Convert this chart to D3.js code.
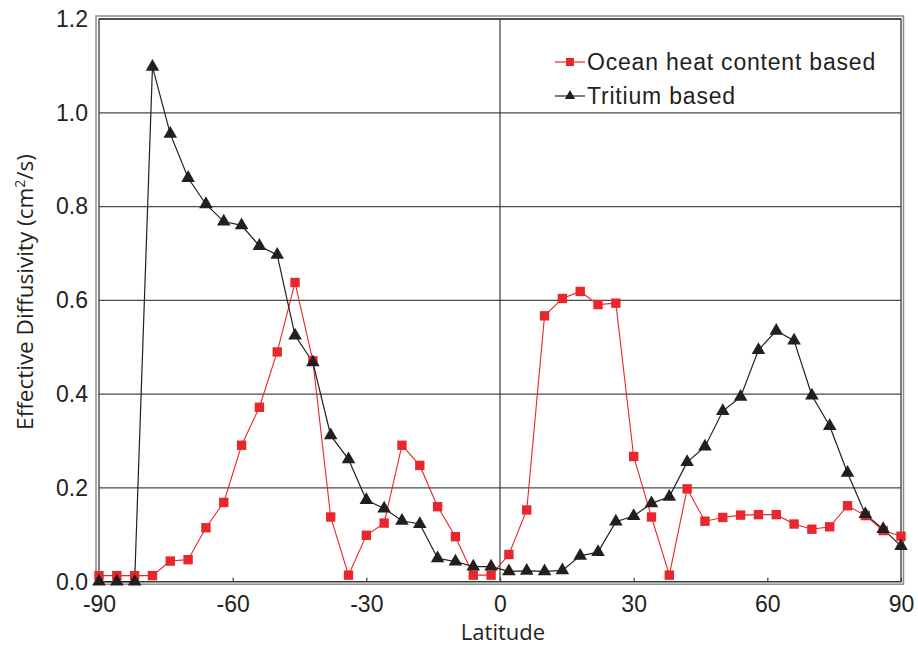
<!DOCTYPE html>
<meta charset="utf-8">
<script src="https://d3js.org/d3.v7.min.js"></script>
<style>
  body { margin: 0; background: #fff; }
  .tick-lbl { font-family: "Liberation Sans", Arial, sans-serif; font-size: 23px; fill: #231f20; }
  .title-lbl { font-family: "Open Sans", "Noto Sans", sans-serif; font-size: 22px; fill: #231f20; }
  .legend-lbl { font-family: "Liberation Sans", Arial, sans-serif; font-size: 23px; letter-spacing: 0.8px; fill: #231f20; }
</style>
<div id="chart"></div>
<script>
// latitudes, every 4 degrees
var lat = d3.range(-90, 91, 4);

// Ocean heat content based
var heat = [0.013, 0.013, 0.013, 0.013, 0.044, 0.047, 0.115, 0.169, 0.291, 0.372,
            0.490, 0.638, 0.471, 0.138, 0.014, 0.099, 0.125, 0.291, 0.248, 0.160,
            0.096, 0.014, 0.014, 0.058, 0.153, 0.567, 0.604, 0.619, 0.591, 0.594,
            0.267, 0.138, 0.014, 0.198, 0.129, 0.137, 0.142, 0.143, 0.143, 0.123,
            0.112, 0.117, 0.162, 0.141, 0.109, 0.097];

// Tritium based
var tritium = [0.0, 0.0, 0.0, 1.098, 0.955, 0.861, 0.805, 0.768, 0.760, 0.716,
               0.697, 0.525, 0.468, 0.312, 0.261, 0.174, 0.156, 0.130, 0.123, 0.050,
               0.043, 0.032, 0.032, 0.022, 0.023, 0.022, 0.024, 0.055, 0.063, 0.128,
               0.140, 0.167, 0.181, 0.255, 0.288, 0.364, 0.394, 0.494, 0.535, 0.514,
               0.397, 0.332, 0.232, 0.144, 0.112, 0.076];

var xTicks = [-90, -60, -30, 0, 30, 60, 90];
var yTicks = [0.0, 0.2, 0.4, 0.6, 0.8, 1.0, 1.2];
var seriesNames = ["Ocean heat content based", "Tritium based"];

var W = 918, H = 645;
var red = "#e8262b", dark = "#231f20";

var svg = d3.select("#chart").append("svg")
    .attr("width", W).attr("height", H);

var x = d3.scaleLinear().domain([-90, 90]).range([99, 901]);
var y = d3.scaleLinear().domain([0, 1.2]).range([581.7, 19]);

// outer grey frame
svg.append("rect")
    .attr("x", x(-90) - 3).attr("y", y(1.2) - 3)
    .attr("width", x(90) - x(-90) + 5.5).attr("height", y(0) - y(1.2) + 5.5)
    .attr("fill", "none").attr("stroke", "#8a8a8a").attr("stroke-width", 1.5);

// horizontal gridlines
svg.append("g").selectAll("line")
    .data(yTicks)
    .enter().append("line")
    .attr("x1", x(-90)).attr("x2", x(90))
    .attr("y1", function(d) { return y(d); })
    .attr("y2", function(d) { return y(d); })
    .attr("stroke", "#4a4a4a").attr("stroke-width", 1.3);

// zero latitude line
svg.append("line")
    .attr("x1", x(0)).attr("x2", x(0))
    .attr("y1", y(1.2)).attr("y2", y(0))
    .attr("stroke", "#3a3a3a").attr("stroke-width", 1.2);

// inner frame
svg.append("rect")
    .attr("x", x(-90)).attr("y", y(1.2))
    .attr("width", x(90) - x(-90)).attr("height", y(0) - y(1.2))
    .attr("fill", "none").attr("stroke", "#3a3a3a").attr("stroke-width", 1.3);

// x axis
var xAxis = svg.append("g")
    .attr("transform", "translate(0," + y(0) + ")")
    .call(d3.axisBottom(x).tickValues(xTicks).tickSize(-4).tickPadding(14)
      .tickFormat(function(d) { return String(d); }));
xAxis.select(".domain").remove();
xAxis.selectAll(".tick line").attr("stroke", "#3a3a3a").attr("stroke-width", 1.2);
xAxis.selectAll("text").attr("class", "tick-lbl");
xAxis.attr("font-size", null).attr("font-family", null);

// y axis
var yAxis = svg.append("g")
    .attr("transform", "translate(" + x(-90) + ",0)")
    .call(d3.axisLeft(y).tickValues(yTicks).tickSize(0).tickPadding(11).tickFormat(d3.format(".1f")));
yAxis.select(".domain").remove();
yAxis.selectAll("text").attr("class", "tick-lbl");
yAxis.attr("font-size", null).attr("font-family", null);

// axis titles
svg.append("text").attr("class", "title-lbl")
    .attr("x", 503).attr("y", 640)
    .attr("text-anchor", "middle")
    .text("Latitude");

var yt = svg.append("text").attr("class", "title-lbl")
    .attr("transform", "translate(33," + 292 + ") rotate(-90)")
    .attr("text-anchor", "middle")
    .style("font-size", "22.5px");
yt.append("tspan").text("Effective Diffusivity (cm");
yt.append("tspan").attr("font-size", "14px").attr("dy", -8).text("2");
yt.append("tspan").attr("dy", 8).text("/s)");

var line = d3.line()
    .x(function(d, i) { return x(lat[i]); })
    .y(function(d) { return y(d); });

// heat series
svg.append("path").datum(heat)
    .attr("d", line)
    .attr("fill", "none").attr("stroke", red).attr("stroke-width", 1.1);

// tritium series
svg.append("path").datum(tritium)
    .attr("d", line)
    .attr("fill", "none").attr("stroke", dark).attr("stroke-width", 1.2);

var sq = d3.symbol().type(d3.symbolSquare).size(88);
var tri = d3.symbol().type(d3.symbolTriangle).size(80);

svg.append("g").selectAll("path")
    .data(heat)
    .enter().append("path")
    .attr("d", sq)
    .attr("transform", function(d, i) { return "translate(" + x(lat[i]) + "," + y(d) + ")"; })
    .attr("fill", red);

svg.append("g").selectAll("path")
    .data(tritium)
    .enter().append("path")
    .attr("d", tri)
    .attr("transform", function(d, i) { return "translate(" + x(lat[i]) + "," + y(d) + ")"; })
    .attr("fill", dark);

// legend
var legend = svg.append("g");
var legY = [62, 96];
legend.selectAll("line")
    .data(seriesNames)
    .enter().append("line")
    .attr("x1", 555).attr("x2", 585)
    .attr("y1", function(d, i) { return legY[i]; })
    .attr("y2", function(d, i) { return legY[i]; })
    .attr("stroke", function(d, i) { return i === 0 ? red : dark; })
    .attr("stroke-width", 1.2);
legend.append("path").attr("d", d3.symbol().type(d3.symbolSquare).size(64))
    .attr("transform", "translate(570," + legY[0] + ")").attr("fill", red);
legend.append("path").attr("d", d3.symbol().type(d3.symbolTriangle).size(45))
    .attr("transform", "translate(570," + legY[1] + ")").attr("fill", dark);
legend.selectAll("text")
    .data(seriesNames)
    .enter().append("text")
    .attr("class", "legend-lbl")
    .attr("x", 587)
    .attr("y", function(d, i) { return legY[i] + 8; })
    .text(function(d) { return d; });
</script>
